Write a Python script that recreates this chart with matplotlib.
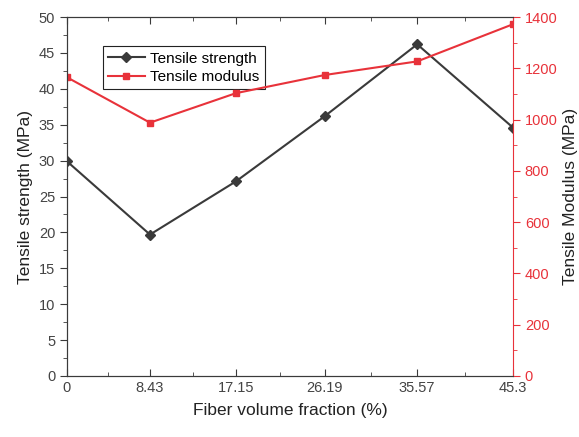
import matplotlib
matplotlib.use("Agg")
import matplotlib.pyplot as plt
from matplotlib.ticker import MultipleLocator, FixedLocator

plt.rcParams['font.family'] = ['Liberation Sans', 'DejaVu Sans']

# data
fiber_fraction = [0, 8.43, 17.15, 26.19, 35.57, 45.3]
tick_labels = ['0', '8.43', '17.15', '26.19', '35.57', '45.3']
tensile_strength = [29.9, 19.7, 27.1, 36.2, 46.2, 34.6]
tensile_modulus = [1165, 988, 1103, 1174, 1227, 1372]

dark = '#3a3a3a'
red = '#e8323a'
text_gray = '#444444'

fig = plt.figure(figsize=(5.79, 4.37), dpi=100)
ax = fig.add_axes([0.1157, 0.1396, 0.7703, 0.8214])
ax2 = ax.twinx()

l1, = ax.plot(fiber_fraction, tensile_strength, color=dark, marker='D', markersize=5,
              linewidth=1.5, label='Tensile strength')
l2, = ax2.plot(fiber_fraction, tensile_modulus, color=red, marker='s', markersize=5,
               linewidth=1.5, label='Tensile modulus')

ax.set_xlim(0, 45.3)
ax.set_ylim(0, 50)
ax2.set_ylim(0, 1400)

ax.xaxis.set_major_locator(FixedLocator(fiber_fraction))
ax.set_xticklabels(tick_labels)
mids = [(a + b) / 2 for a, b in zip(fiber_fraction[:-1], fiber_fraction[1:])]
ax.xaxis.set_minor_locator(FixedLocator(mids))
ax.yaxis.set_major_locator(MultipleLocator(5))
ax.yaxis.set_minor_locator(MultipleLocator(2.5))
ax2.yaxis.set_major_locator(MultipleLocator(200))
ax2.yaxis.set_minor_locator(MultipleLocator(100))

ax.tick_params(axis='x', which='both', direction='in', top=True, colors=dark,
               labelcolor=text_gray, labelsize=10.5)
ax.tick_params(axis='x', which='major', length=5)
ax.tick_params(axis='x', which='minor', length=3)
ax.tick_params(axis='y', which='both', direction='out', colors=dark,
               labelcolor=text_gray, labelsize=10.5)
ax.tick_params(axis='y', which='major', length=5)
ax.tick_params(axis='y', which='minor', length=3)
ax2.tick_params(axis='y', which='both', direction='out', colors=red, labelsize=10.5)
ax2.tick_params(axis='y', which='major', length=5)
ax2.tick_params(axis='y', which='minor', length=3)

for s in ['left', 'top', 'bottom']:
    ax.spines[s].set_color(dark)
    ax2.spines[s].set_color(dark)
ax2.spines['right'].set_color(red)
ax.spines['right'].set_visible(False)

ax.set_xlabel('Fiber volume fraction (%)', fontsize=12.5, color='#222222', labelpad=6)
ax.set_ylabel('Tensile strength (MPa)', fontsize=12.5, color='#222222', labelpad=4)
ax2.set_ylabel('Tensile Modulus (MPa)', fontsize=12.5, color='#222222', labelpad=4)

leg = ax.legend([l1, l2], ['Tensile strength', 'Tensile modulus'],
                loc='upper left', bbox_to_anchor=(0.063, 0.94), fontsize=11,
                fancybox=False, framealpha=1, edgecolor='#222222',
                handlelength=2.4, borderpad=0.35, labelspacing=0.3, handletextpad=0.35)
leg.get_frame().set_linewidth(0.8)

fig.savefig('out.png', dpi=100)
